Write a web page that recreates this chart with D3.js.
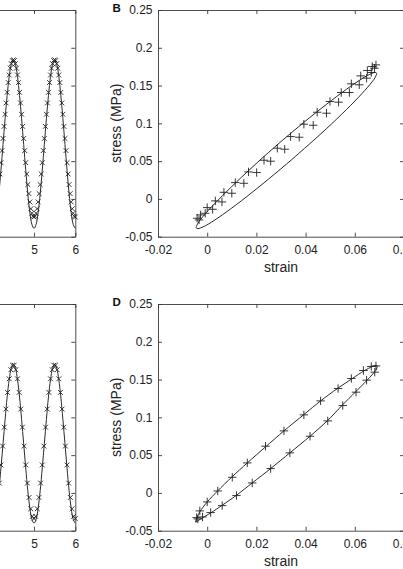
<!DOCTYPE html>
<html>
<head>
<meta charset="utf-8">
<script src="https://cdn.jsdelivr.net/npm/d3@7"></script>
<style>
    body { margin: 0; background: #fff; }
    svg { display: block; font-family: 'Liberation Sans', Arial, sans-serif; }
</style>
</head>
<body>
<svg id="fig" width="403" height="569"></svg>
<script>
// tick values (time axis only shows its last two ticks)
const timeTicks = [5, 6];
const stressTicks = [-0.05, 0, 0.05, 0.1, 0.15, 0.2, 0.25];
const strainTicks = [-0.02, 0, 0.02, 0.04, 0.06, 0.08];

// panel A: measured stress vs time (x markers) and model curve
const timeA = [4.175, 4.2, 4.225, 4.25, 4.275, 4.3, 4.325, 4.35, 4.375, 4.4, 4.425, 4.45, 4.475, 4.5, 4.525, 4.55, 4.575, 4.6, 4.625, 4.65, 4.675, 4.7, 4.725, 4.75, 4.775, 4.8, 4.825, 4.85, 4.875, 4.9, 4.925, 4.95, 4.975,
    5.0, 5.025, 5.05, 5.075, 5.1, 5.125, 5.15, 5.175, 5.2, 5.225, 5.25, 5.275, 5.3, 5.325, 5.35, 5.375, 5.4, 5.425, 5.45, 5.475, 5.5, 5.525, 5.55, 5.575, 5.6, 5.625, 5.65, 5.675, 5.7, 5.725, 5.75, 5.775, 5.8, 5.825, 5.85, 5.875, 5.9, 5.925, 5.95, 5.975, 6.0];
const stressA = [0.033, 0.048, 0.064, 0.080, 0.096, 0.112, 0.127, 0.141, 0.154, 0.164, 0.173, 0.179, 0.183, 0.184, 0.183, 0.179, 0.173, 0.164, 0.154, 0.141, 0.127, 0.112, 0.096, 0.080, 0.064, 0.048, 0.033, 0.019, 0.007, -0.004, -0.013, -0.019, -0.023,
    -0.024, -0.023, -0.019, -0.013, -0.004, 0.007, 0.019, 0.033, 0.048, 0.064, 0.080, 0.096, 0.112, 0.127, 0.141, 0.154, 0.164, 0.173, 0.179, 0.183, 0.184, 0.183, 0.179, 0.173, 0.164, 0.154, 0.141, 0.127, 0.112, 0.096, 0.080, 0.064, 0.048, 0.033, 0.019, 0.007, -0.004, -0.013, -0.019, -0.023, -0.024];
const curveTime = [4.15, 4.2, 4.25, 4.3, 4.35, 4.4, 4.45, 4.5, 4.55, 4.6, 4.65, 4.7, 4.75, 4.8, 4.85, 4.9, 4.95,
    5.0, 5.05, 5.1, 5.15, 5.2, 5.25, 5.3, 5.35, 5.4, 5.45, 5.5, 5.55, 5.6, 5.65, 5.7, 5.75, 5.8, 5.85, 5.9, 5.95, 6.0];
const curveStressA = [0.007, 0.038, 0.072, 0.106, 0.137, 0.162, 0.178, 0.183, 0.178, 0.162, 0.137, 0.106, 0.072, 0.038, 0.007, -0.018, -0.034,
    -0.039, -0.034, -0.018, 0.007, 0.038, 0.072, 0.106, 0.137, 0.162, 0.178, 0.183, 0.178, 0.162, 0.137, 0.106, 0.072, 0.038, 0.007, -0.018, -0.034, -0.039];

// panel B: measured stress-strain (+ markers) and model loop
const strainB = [-0.0041, -0.0027, 0.0, 0.0033, 0.0068, 0.0114, 0.0168, 0.0231, 0.0285, 0.0339, 0.0393, 0.0447, 0.0499, 0.0545, 0.0586, 0.0624, 0.0651, 0.0671, 0.0686,
    -0.0033, -0.0008, 0.0022, 0.006, 0.01, 0.0149, 0.0201, 0.0258, 0.0315, 0.0374, 0.0431, 0.0485, 0.0534, 0.0578, 0.0618, 0.0648, 0.0667, 0.068];
const stressB = [-0.0256, -0.0212, -0.0115, -0.0026, 0.0088, 0.0216, 0.0357, 0.0512, 0.0671, 0.0825, 0.0989, 0.1147, 0.1289, 0.1408, 0.1523, 0.1628, 0.1699, 0.1752, 0.1774,
    -0.0278, -0.019, -0.0137, -0.004, 0.0075, 0.0207, 0.0349, 0.0499, 0.0658, 0.0816, 0.0975, 0.1134, 0.128, 0.1408, 0.151, 0.1598, 0.1673, 0.173];
const loopStrainB = [0.0689, 0.0677, 0.064, 0.0582, 0.0506, 0.0417, 0.0322, 0.0227, 0.0139, 0.0063, 0.0004, -0.0033, -0.0045, -0.0033, 0.0004, 0.0063, 0.0139, 0.0227, 0.0322, 0.0417, 0.0506, 0.0582, 0.064, 0.0677];
const loopStressB = [0.1659, 0.1671, 0.1613, 0.1488, 0.1305, 0.1077, 0.082, 0.055, 0.0286, 0.0046, -0.0153, -0.0298, -0.0379, -0.0391, -0.0335, -0.0208, -0.0025, 0.0203, 0.046, 0.073, 0.0994, 0.1234, 0.1433, 0.1578];

// panel C: measured stress vs time and model curve
const timeC = [4.16, 4.2, 4.24, 4.28, 4.32, 4.36, 4.4, 4.44, 4.48, 4.52, 4.56, 4.6, 4.64, 4.68, 4.72, 4.76, 4.8, 4.84, 4.88, 4.92, 4.96,
    5.0, 5.04, 5.08, 5.12, 5.16, 5.2, 5.24, 5.28, 5.32, 5.36, 5.4, 5.44, 5.48, 5.52, 5.56, 5.6, 5.64, 5.68, 5.72, 5.76, 5.8, 5.84, 5.88, 5.92, 5.96, 6.0];
const stressC = [0.013, 0.037, 0.062, 0.087, 0.111, 0.133, 0.151, 0.163, 0.169, 0.169, 0.163, 0.151, 0.133, 0.111, 0.087, 0.062, 0.037, 0.013, -0.006, -0.021, -0.031,
    -0.034, -0.031, -0.021, -0.006, 0.013, 0.037, 0.062, 0.087, 0.111, 0.133, 0.151, 0.163, 0.169, 0.169, 0.163, 0.151, 0.133, 0.111, 0.087, 0.062, 0.037, 0.013, -0.006, -0.021, -0.031, -0.034];
const curveStressC = [0.003, 0.033, 0.065, 0.097, 0.127, 0.150, 0.165, 0.170, 0.165, 0.150, 0.127, 0.097, 0.065, 0.033, 0.003, -0.020, -0.035,
    -0.040, -0.035, -0.020, 0.003, 0.033, 0.065, 0.097, 0.127, 0.150, 0.165, 0.170, 0.165, 0.150, 0.127, 0.097, 0.065, 0.033, 0.003, -0.020, -0.035, -0.040];

// panel D: measured stress-strain and model loop
const strainD = [-0.0043, -0.003, 0.0, 0.0043, 0.0102, 0.0163, 0.0237, 0.0312, 0.0393, 0.0461, 0.0532, 0.0586, 0.0635, 0.0667, 0.0686,
    -0.0038, -0.0019, 0.0014, 0.0061, 0.0119, 0.0183, 0.0258, 0.0336, 0.0418, 0.049, 0.0551, 0.0605, 0.0648, 0.0681];
const stressD = [-0.0327, -0.0238, -0.0119, 0.0026, 0.0207, 0.0397, 0.0618, 0.0821, 0.1033, 0.1218, 0.1381, 0.1514, 0.162, 0.1673, 0.1681,
    -0.0344, -0.0318, -0.026, -0.0168, -0.0035, 0.0132, 0.0322, 0.053, 0.075, 0.0953, 0.1156, 0.1333, 0.1492, 0.1598];
const loopStrainD = [-0.0048, -0.003, 0.0, 0.0042, 0.01, 0.0163, 0.0237, 0.0312, 0.0393, 0.0461, 0.0529, 0.059, 0.0637, 0.067, 0.069,
    0.0685, 0.065, 0.0603, 0.0549, 0.0488, 0.0418, 0.0336, 0.0258, 0.0183, 0.0119, 0.0061, 0.0014, -0.0025];
const loopStressD = [-0.0385, -0.025, -0.012, 0.0025, 0.021, 0.0397, 0.0609, 0.0821, 0.1037, 0.1218, 0.1381, 0.1514, 0.1615, 0.167, 0.1685,
    0.162, 0.1492, 0.1337, 0.1161, 0.0953, 0.075, 0.053, 0.0322, 0.0132, -0.0031, -0.0163, -0.0265, -0.034];

const svg = d3.select('#fig');
const axisColor = '#3a3a3a';
const inkColor = '#222';
const tickLen = 4;
const tickFont = '12px';
const rowOffset = [0, 294]; // second row sits 294px lower

const crossPath = 'M-2.4,-2.4L2.4,2.4M-2.4,2.4L2.4,-2.4';
const plusPath = 'M-4.2,0H4.2M0,-4.2V4.2';

// plain hyphen for negatives, like the original figure
const fmtNum = (d) => d3.format('~g')(d).replace('\u2212', '-');

function styleAxis(a) {
    a.selectAll('path, line').attr('stroke', axisColor).attr('stroke-width', 0.9);
    a.selectAll('text')
        .attr('fill', inkColor)
        .attr('font-size', tickFont)
        .attr('font-family', "'Liberation Sans', Arial, sans-serif");
}

// box with inward ticks; labels on bottom, and on left when showLeft is set
function drawAxes(g, x, y, xTicks, yTicks, showLeft) {
    const [x0, x1] = x.range();
    const [y0, y1] = y.range();
    styleAxis(g.append('g').attr('transform', `translate(0,${y0})`)
        .call(d3.axisBottom(x).tickValues(xTicks).tickSizeInner(-tickLen).tickSizeOuter(0).tickPadding(9).tickFormat(fmtNum)));
    styleAxis(g.append('g').attr('transform', `translate(0,${y1})`)
        .call(d3.axisTop(x).tickValues(xTicks).tickSizeInner(-tickLen).tickSizeOuter(0).tickFormat('')));
    styleAxis(g.append('g').attr('transform', `translate(${x1},0)`)
        .call(d3.axisRight(y).tickValues(yTicks).tickSizeInner(-tickLen).tickSizeOuter(0).tickFormat('')));
    if (showLeft) {
        styleAxis(g.append('g').attr('transform', `translate(${x0},0)`)
            .call(d3.axisLeft(y).tickValues(yTicks).tickSizeInner(-tickLen).tickSizeOuter(0).tickPadding(5.5).tickFormat(fmtNum)));
    }
    // empty tick texts only add clutter
    g.selectAll('text').filter(function () { return this.textContent === ''; }).remove();
}

function drawMarkers(g, xs, ys, x, y, path) {
    g.append('g')
        .selectAll('path')
        .data(xs.map((v, i) => [v, ys[i]]))
        .enter()
        .append('path')
        .attr('d', path)
        .attr('transform', (d) => `translate(${x(d[0])},${y(d[1])})`)
        .attr('fill', 'none')
        .attr('stroke', inkColor)
        .attr('stroke-width', 0.9);
}

// left column: stress vs time, only its right part is in view
function drawTimePanel(row, markT, markS, curveS) {
    const dy = rowOffset[row];
    const x = d3.scaleLinear().domain([0, 6]).range([34 - 5 * 41.3, 75.3]);
    const y = d3.scaleLinear().domain([-0.05, 0.25]).range([236.7 + dy, 10 + dy]);
    const g = svg.append('g');
    drawAxes(g, x, y, timeTicks, stressTicks, false);

    const line = d3.line()
        .x((d) => x(d[0]))
        .y((d) => y(d[1]))
        .curve(d3.curveCatmullRom);
    g.append('path')
        .attr('d', line(curveTime.map((t, i) => [t, curveS[i]])))
        .attr('fill', 'none')
        .attr('stroke', '#2a2a2a')
        .attr('stroke-width', 1);
    drawMarkers(g, markT, markS, x, y, crossPath);
}

// right column: stress-strain loops
function drawLoopPanel(row, label, markE, markS, loopE, loopS) {
    const dy = rowOffset[row];
    const x = d3.scaleLinear().domain([-0.02, 0.08]).range([158, 404]);
    const y = d3.scaleLinear().domain([-0.05, 0.25]).range([236.7 + dy, 10 + dy]);
    const g = svg.append('g');
    drawAxes(g, x, y, strainTicks, stressTicks, true);

    const line = d3.line()
        .x((d) => x(d[0]))
        .y((d) => y(d[1]))
        .curve(d3.curveCardinalClosed.tension(0.2));
    g.append('path')
        .attr('d', line(loopE.map((v, i) => [v, loopS[i]])))
        .attr('fill', 'none')
        .attr('stroke', '#2a2a2a')
        .attr('stroke-width', 1);
    drawMarkers(g, markE, markS, x, y, plusPath);

    g.append('text')
        .attr('x', 281)
        .attr('y', 271.5 + dy)
        .attr('text-anchor', 'middle')
        .attr('font-size', '14px')
        .attr('fill', inkColor)
        .text('strain');
    g.append('text')
        .attr('transform', `translate(120.5,${123.3 + dy}) rotate(-90)`)
        .attr('text-anchor', 'middle')
        .attr('font-size', '14px')
        .attr('fill', inkColor)
        .text('stress (MPa)');
    g.append('text')
        .attr('x', 112.5)
        .attr('y', 11.5 + dy)
        .attr('font-size', '11.5px')
        .attr('font-weight', 'bold')
        .attr('fill', '#111')
        .text(label);
}

drawTimePanel(0, timeA, stressA, curveStressA);
drawLoopPanel(0, 'B', strainB, stressB, loopStrainB, loopStressB);
drawTimePanel(1, timeC, stressC, curveStressC);
drawLoopPanel(1, 'D', strainD, stressD, loopStrainD, loopStressD);
</script>
</body>
</html>
